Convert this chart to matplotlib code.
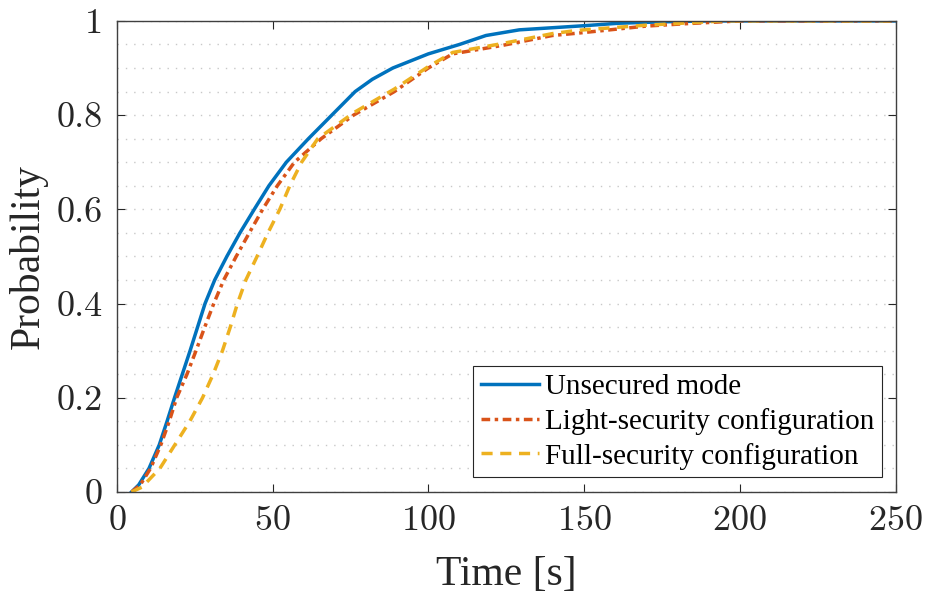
import matplotlib
matplotlib.use("Agg")
import matplotlib.pyplot as plt
from matplotlib.ticker import MultipleLocator

# CDF curves (time in s, cumulative probability)
unsecured_t = [4.7, 7, 10.3, 13.6, 16.1, 18.5, 21, 23.5, 25.9, 28.3, 31.4, 35.3, 39.5, 44.1,
               48.8, 54.4, 61.5, 69, 76.5, 82, 88.6, 100, 110, 118.5, 129.2, 150.5, 161, 175, 190, 250]
unsecured_p = [0, 0.015, 0.05, 0.1, 0.15, 0.2, 0.25, 0.3, 0.35, 0.4, 0.45, 0.5, 0.55, 0.6,
               0.65, 0.7, 0.75, 0.8, 0.85, 0.876, 0.9, 0.93, 0.95, 0.969, 0.981, 0.99, 0.995, 0.998, 1.0, 1.0]

light_t = [4.7, 7.5, 10.8, 14.1, 16.8, 19.2, 22.5, 25.4, 28.2, 31.1, 34.3, 38.3, 42.5, 46.8, 51.5,
           57, 65.6, 68.3, 76, 89.1, 100, 107.8, 123.8, 139.8, 148, 161.2, 170, 182.6, 200, 250]
light_p = [0, 0.015, 0.05, 0.1, 0.15, 0.2, 0.25, 0.3, 0.35, 0.4, 0.45, 0.5, 0.55, 0.6, 0.65,
           0.7, 0.75, 0.763, 0.8, 0.85, 0.9, 0.93, 0.948, 0.969, 0.974, 0.983, 0.989, 0.994, 1.0, 1.0]

full_t = [4.7, 8, 13.8, 18.6, 23.4, 27.5, 30.9, 33.9, 36.4, 38.7, 41.4, 45, 48.5, 52.3, 55.5, 59.3,
          64.5, 68.3, 76, 89, 100, 107.8, 123.8, 139.8, 148, 170, 195, 250]
full_p = [0, 0.01, 0.05, 0.1, 0.15, 0.2, 0.25, 0.3, 0.35, 0.4, 0.45, 0.5, 0.55, 0.6, 0.65, 0.7,
          0.75, 0.768, 0.805, 0.855, 0.903, 0.933, 0.952, 0.973, 0.98, 0.991, 1.0, 1.0]

labels = ["Unsecured mode", "Light-security configuration", "Full-security configuration"]
colors = ["#0072BD", "#D95319", "#EDB120"]

plt.rcParams["axes.formatter.use_mathtext"] = True
serif = ["Liberation Serif", "DejaVu Serif"]
axcol = "#262626"

fig = plt.figure(figsize=(9.28, 5.97), dpi=100)
ax = fig.add_axes([0.126, 0.176, 0.839, 0.789])

ax.plot(unsecured_t, unsecured_p, color=colors[0], lw=2.5, label=labels[0])
ax.plot(light_t, light_p, color=colors[1], lw=2.5, ls=(0, (2.5, 1.3, 1, 1.3)), label=labels[1])
ax.plot(full_t, full_p, color=colors[2], lw=2.5, ls=(0, (3.2, 2.2)), label=labels[2])

ax.set_xlim(0, 250)
ax.set_ylim(0, 1)
ax.set_xticks([0, 50, 100, 150, 200, 250])
ax.set_yticks([0, 0.2, 0.4, 0.6, 0.8, 1])
ax.set_yticklabels(["0", "0.2", "0.4", "0.6", "0.8", "1"])
ax.yaxis.set_minor_locator(MultipleLocator(0.05))

ax.grid(which="both", axis="y", color="#c8c8c8", lw=1.0, ls=(0, (1, 5)))
ax.tick_params(which="major", direction="in", length=6, width=0.8, color=axcol,
               top=True, right=True, labelsize=26, labelcolor=axcol, pad=10)
ax.tick_params(which="minor", length=0)
for lab in ax.get_xticklabels() + ax.get_yticklabels():
    lab.set_family("cmr10")
for sp in ax.spines.values():
    sp.set_color("#404040")
    sp.set_linewidth(1.0)

ax.set_xlabel("Time [s]", family=serif, fontsize=30, color=axcol)
ax.set_ylabel("Probability", family=serif, fontsize=30, color=axcol)
ax.xaxis.set_label_coords(0.5, -0.135)
ax.yaxis.set_label_coords(-0.089, 0.5)

leg = ax.legend(loc="lower right", bbox_to_anchor=(0.982, 0.032), prop={"family": serif, "size": 21},
                fancybox=False, framealpha=1, edgecolor="#262626", handlelength=2.0,
                handletextpad=0.2, labelspacing=0.27, borderpad=0.25, borderaxespad=0)
leg.get_frame().set_linewidth(0.8)

fig.savefig("out.png", dpi=100)
